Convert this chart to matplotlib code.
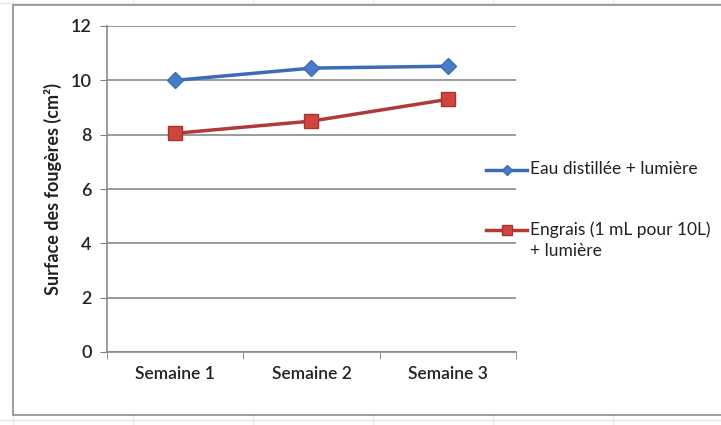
import matplotlib
matplotlib.use("Agg")
import matplotlib.pyplot as plt
from matplotlib.lines import Line2D
from matplotlib.patches import Rectangle

categories = ["Semaine 1", "Semaine 2", "Semaine 3"]
eau = [10.0, 10.45, 10.52]
engrais = [8.05, 8.5, 9.3]
series_labels = ["Eau distillée + lumière", "Engrais (1 mL pour 10L)\n+ lumière"]
yticks = [0, 2, 4, 6, 8, 10, 12]

plt.rcParams['font.family'] = ['Lato', 'DejaVu Sans']

W, H = 721, 425
fig = plt.figure(figsize=(W / 100, H / 100), dpi=100)

def fx(px):
    return px / W

def fy(py):
    return 1 - py / H

# faint spreadsheet cell lines in the background
for xp in [13, 133, 253, 373, 493, 613]:
    fig.add_artist(Line2D([fx(xp), fx(xp)], [0, 1], color="#ececec", lw=0.8, zorder=0))
fig.add_artist(Line2D([0, 1], [fy(3), fy(3)], color="#e4e4e4", lw=0.8, zorder=0))
fig.add_artist(Line2D([0, 1], [fy(420), fy(420)], color="#e4e4e4", lw=0.8, zorder=0))
# chart area (white with gray border)
fig.add_artist(Rectangle((fx(13), fy(415)), 1.0, 410 / H,
                         facecolor="white", edgecolor="#8c8c8c", lw=1.2, zorder=1))

ax = fig.add_axes([fx(107), fy(352), 409 / W, 326 / H])
ax.set_zorder(2)
ax.patch.set_alpha(0)

colors = ["#3c6cb4", "#b23a36"]
faces = ["#4a7cc6", "#d0463f"]
edges = ["#3c6cb4", "#a5332f"]
markers = ["D", "s"]
sizes = [8.5, 10]

x = list(range(len(categories)))
for vals, c, fc, ec, m, s, lab in zip([eau, engrais], colors, faces, edges, markers, sizes, series_labels):
    ax.plot(x, vals, color=c, lw=2.5, marker=m, ms=s, markerfacecolor=fc,
            markeredgecolor=ec, label=lab, zorder=4)

ax.set_xlim(-0.5, 2.5)
ax.set_ylim(0, 12)
ax.set_yticks(yticks)
ax.set_yticklabels([str(v) for v in yticks])
ax.set_xticks(x)
ax.set_xticklabels(categories)
ax.set_xticks([-0.5, 0.5, 1.5, 2.5], minor=True)
ax.tick_params(axis="x", which="major", length=0, pad=10, labelsize=12.5)
ax.tick_params(axis="x", which="minor", length=5, color="#808080", direction="out")
ax.tick_params(axis="y", length=5, color="#808080", pad=6, labelsize=13)
for lab in ax.get_xticklabels() + ax.get_yticklabels():
    lab.set_fontweight("semibold")
    lab.set_color("#222222")

ax.grid(axis="y", color="#8a8a8a", lw=1.2)
ax.set_axisbelow(True)
for s in ["top", "right"]:
    ax.spines[s].set_visible(False)
for s in ["left", "bottom"]:
    ax.spines[s].set_color("#8a8a8a")
    ax.spines[s].set_linewidth(1.2)

ax.set_ylabel("Surface des fougères (cm²)", fontsize=13, fontweight="bold", labelpad=6, color="#222222")

# manual legend (handle aligned with first text line, as in the reference)
leg_y = [170, 230]
leg_sizes = [5.5, 7.5]
for ly, c, fc, ec, m, ms, lab in zip(leg_y, colors, faces, edges, markers, leg_sizes, series_labels):
    fig.add_artist(Line2D([fx(486), fx(527)], [fy(ly), fy(ly)], color=c, lw=2.5, zorder=5))
    fig.add_artist(Line2D([fx(506.5)], [fy(ly)], marker=m, ms=ms, markerfacecolor=fc,
                          markeredgecolor=ec, color=c, zorder=6))
    fig.text(fx(530), fy(ly - 9), lab, ha="left", va="top", fontsize=12.5, color="#222222",
             linespacing=1.45, zorder=6)

fig.savefig("out.png", dpi=100)
